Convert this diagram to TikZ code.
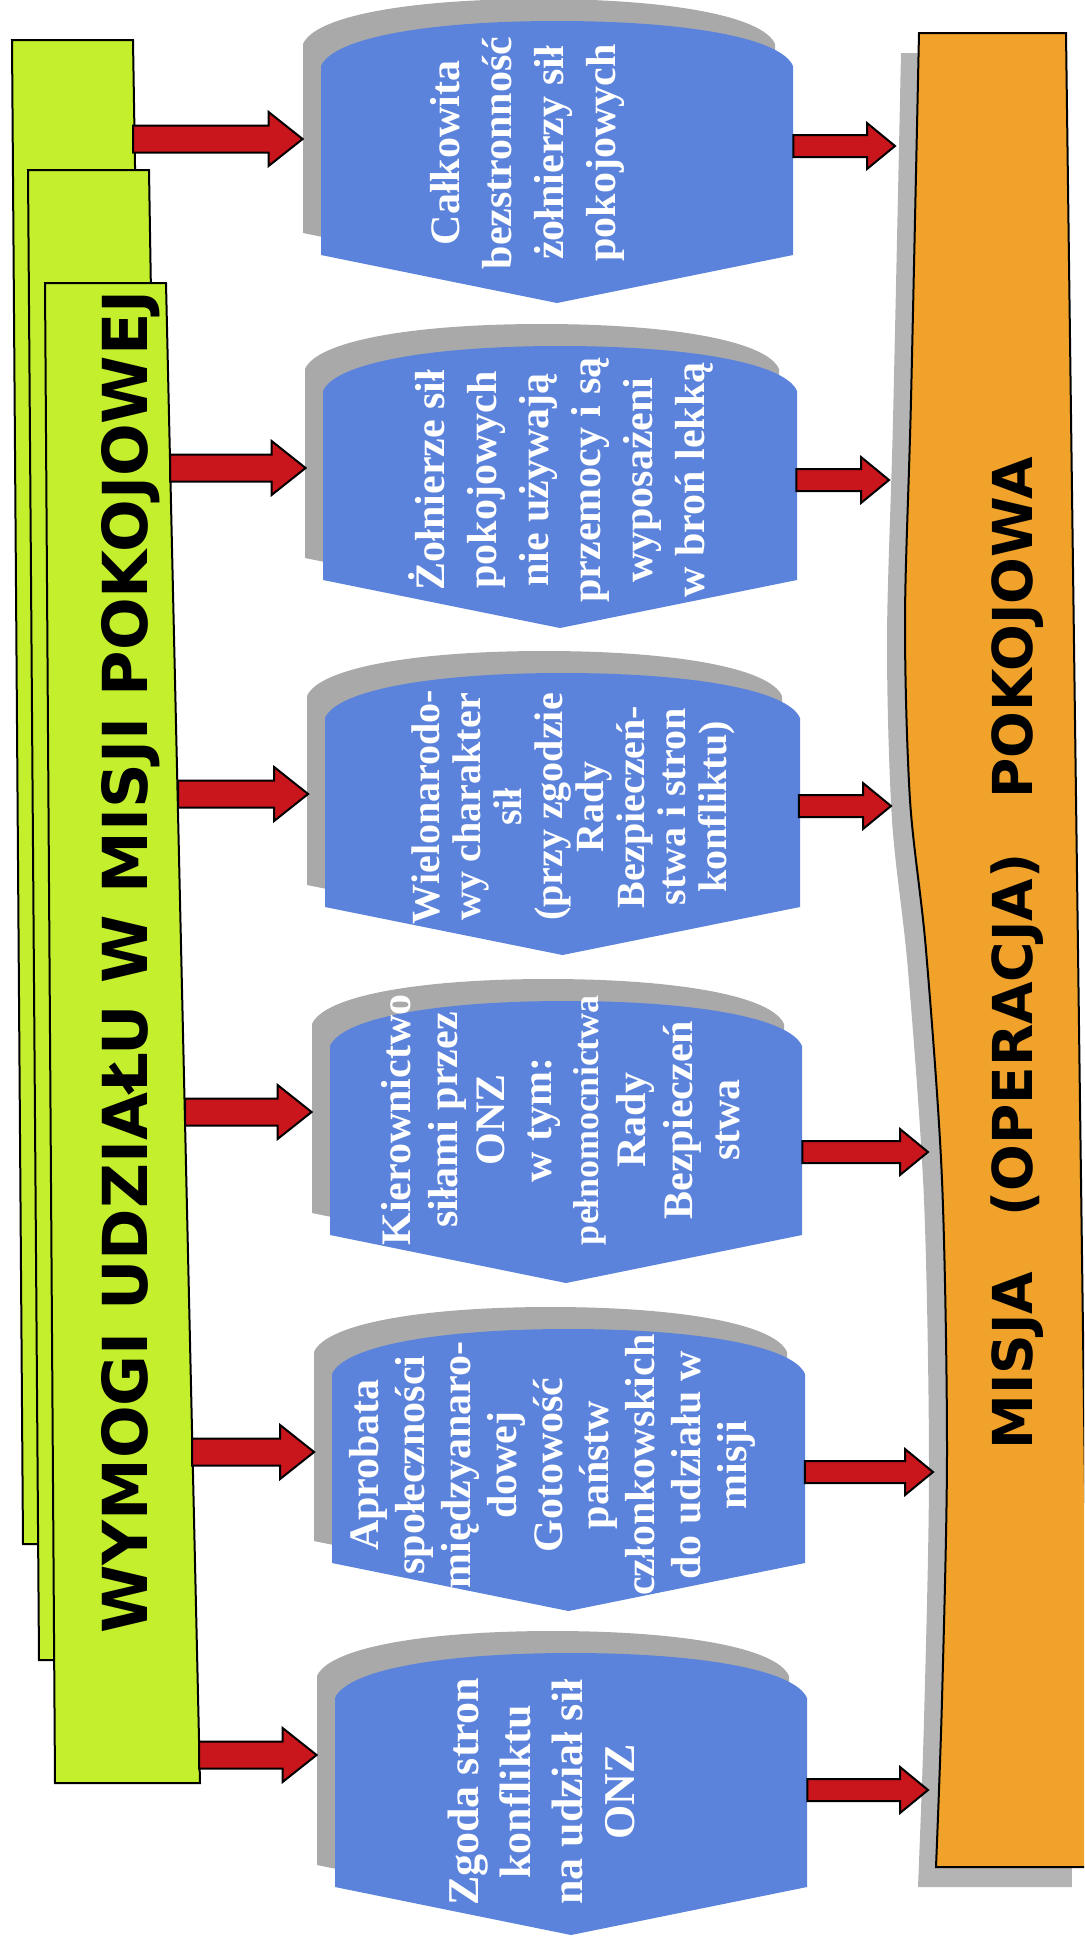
\documentclass[tikz,border=0pt]{standalone}
\usepackage{fontspec}
\setmainfont{Liberation Serif}[BoldFont={Liberation Serif Bold}]
\newfontfamily\heavyfont{DejaVu Sans}[BoldFont={DejaVu Sans Bold}]
\usepackage{xcolor}
\usetikzlibrary{calc}

\definecolor{reqgreen}{HTML}{C3EF2C}
\definecolor{misorange}{HTML}{F0A22A}
\definecolor{misshade}{HTML}{B4B4B4}
\definecolor{cardblue}{HTML}{5B83DB}
\definecolor{cardshade}{HTML}{A9A9A9}
\definecolor{arrowred}{HTML}{C9161C}

\tikzset{
  sheet/.style={draw=black, line width=1pt, fill=reqgreen},
  heading/.style={rotate=90, anchor=base, inner sep=0pt},
  cardbox/.style={minimum width=245pt, minimum height=94.5pt, inner sep=0pt},
  cardtext/.style={rotate=90, align=center, text=white, inner sep=0pt,
    font=\fontsize{21}{26}\selectfont\bfseries},
  blockarrow/.style n args={3}{draw=black, line width=1pt, fill=arrowred,
    to path={let \p1=(\tikztostart), \p2=(\tikztotarget) in
      (\x1,\y1+#1) -- (\x2-#3,\y1+#1) -- (\x2-#3,\y1+#2) -- (\x2,\y1)
      -- (\x2-#3,\y1-#2) -- (\x2-#3,\y1-#1) -- (\x1,\y1-#1) -- cycle}},
  feed/.style={blockarrow={6.75pt}{13.5pt}{17pt}},
  lead/.style={blockarrow={5.5pt}{11.5pt}{14pt}},
}

\begin{document}
\begin{tikzpicture}[x=0.5pt, y=-0.5pt]
  \useasboundingbox (0,0) rectangle (1084,1939);
  \clip (0,0) rectangle (1084,1939);

  % stacked sheets
  \draw[sheet] (12,40) -- (133,40) -- (157,1544) -- (23,1544) -- cycle;
  \draw[sheet] (28,170) -- (149,170) -- (173,1660) -- (39,1660) -- cycle;
  \draw[sheet] (45,283) -- (166,283) -- (200,1783) -- (55,1783) -- cycle;
  \node[heading, font=\heavyfont\fontsize{31}{31}\selectfont\bfseries] (req) at (147,962)
    {WYMOGI UDZIAŁU W MISJI POKOJOWEJ};

  % mission band
  \fill[misshade, shift={(-18,20)}] plot[smooth] coordinates {(919,33) (911,400) (905,620) (910,800)
    (926,950) (942,1180) (947,1450) (942,1700) (936,1867)} -- (1090,1867) -- (1066,33) -- cycle;
  \draw[fill=misorange, line width=1pt] plot[smooth] coordinates {(919,33) (911,400) (905,620) (910,800)
    (926,950) (942,1180) (947,1450) (942,1700) (936,1867)} -- (1090,1867) -- (1066,33) -- cycle;
  \node[heading, font=\heavyfont\fontsize{27.5}{27.5}\selectfont\bfseries] (mis) at (1032,953)
    {MISJA\quad(OPERACJA)\quad POKOJOWA};

  % cards
  \foreach \i/\l/\r/\t in {1/321/793/66, 2/323/797/391, 3/325/800/718,
                           4/330/802/1046, 5/332/805/1374, 6/335/807/1698} {
    \pgfmathsetmacro\m{(\l+\r)/2}
    \fill[cardshade, shift={(-18,-22)}] (\l,\t+189) -- (\l,\t)
      .. controls (\l+12,\t-28) and (\m-130,\t-45) .. (\m,\t-45)
      .. controls (\m+130,\t-45) and (\r-12,\t-28) .. (\r,\t)
      -- (\r,\t+189) -- (\m,\t+237) -- cycle;
    \fill[cardblue] (\l,\t+189) -- (\l,\t)
      .. controls (\l+12,\t-28) and (\m-130,\t-45) .. (\m,\t-45)
      .. controls (\m+130,\t-45) and (\r-12,\t-28) .. (\r,\t)
      -- (\r,\t+189) -- (\m,\t+237) -- cycle;
    \node[cardbox] (c\i) at ({(\l-18+\r)/2},\t+94.5) {};
  }

  \node[cardtext] (t1) at (527,153) {Całkowita\\bezstronność\\żołnierzy sił\\pokojowych};
  \node[cardtext] (t2) at (561,480) {Żołnierze sił\\pokojowych\\nie używają\\przemocy i są\\wyposażeni\\w broń lekką};
  \node[cardtext, font=\fontsize{20}{20.5}\selectfont\bfseries] (t3) at (573,807)
    {Wielonarodo-\\wy charakter\\sił\\(przy zgodzie\\Rady\\Bezpieczeń-\\stwa i stron\\konfliktu)};
  \node[cardtext, font=\fontsize{21}{23.5}\selectfont\bfseries] (t4) at (561,1120)
    {Kierownictwo\\siłami przez\\ONZ\\w tym:\\{\fontsize{18}{23.5}\selectfont pełnomocnictwa}\\Rady\\Bezpieczeń\\stwa};
  \node[cardtext, font=\fontsize{21}{23}\selectfont\bfseries] (t5) at (552,1465)
    {Aprobata\\społeczności\\międzyanaro-\\dowej\\Gotowość\\państw\\członkowskich\\do udziału w\\misji};
  \node[cardtext, font=\fontsize{22}{26}\selectfont\bfseries] (t6) at (541,1792)
    {Zgoda stron\\konfliktu\\na udział sił\\ONZ};

  % arrow ends
  \coordinate (g1) at (133,139);
  \coordinate (g2) at (170,468);
  \coordinate (g3) at (178,794);
  \coordinate (g4) at (185,1112);
  \coordinate (g5) at (192,1452);
  \coordinate (g6) at (199,1755);
  \coordinate (o1) at (895,146);
  \coordinate (o2) at (889,480);
  \coordinate (o3) at (891,806);
  \coordinate (o4) at (928,1152);
  \coordinate (o5) at (933,1472);
  \coordinate (o6) at (928,1790);

  \foreach \i in {1,...,6} {
    \draw[feed] (g\i) to (c\i.west |- g\i);
    \draw[lead] (c\i.east |- o\i) to (o\i);
  }
\end{tikzpicture}
\end{document}
